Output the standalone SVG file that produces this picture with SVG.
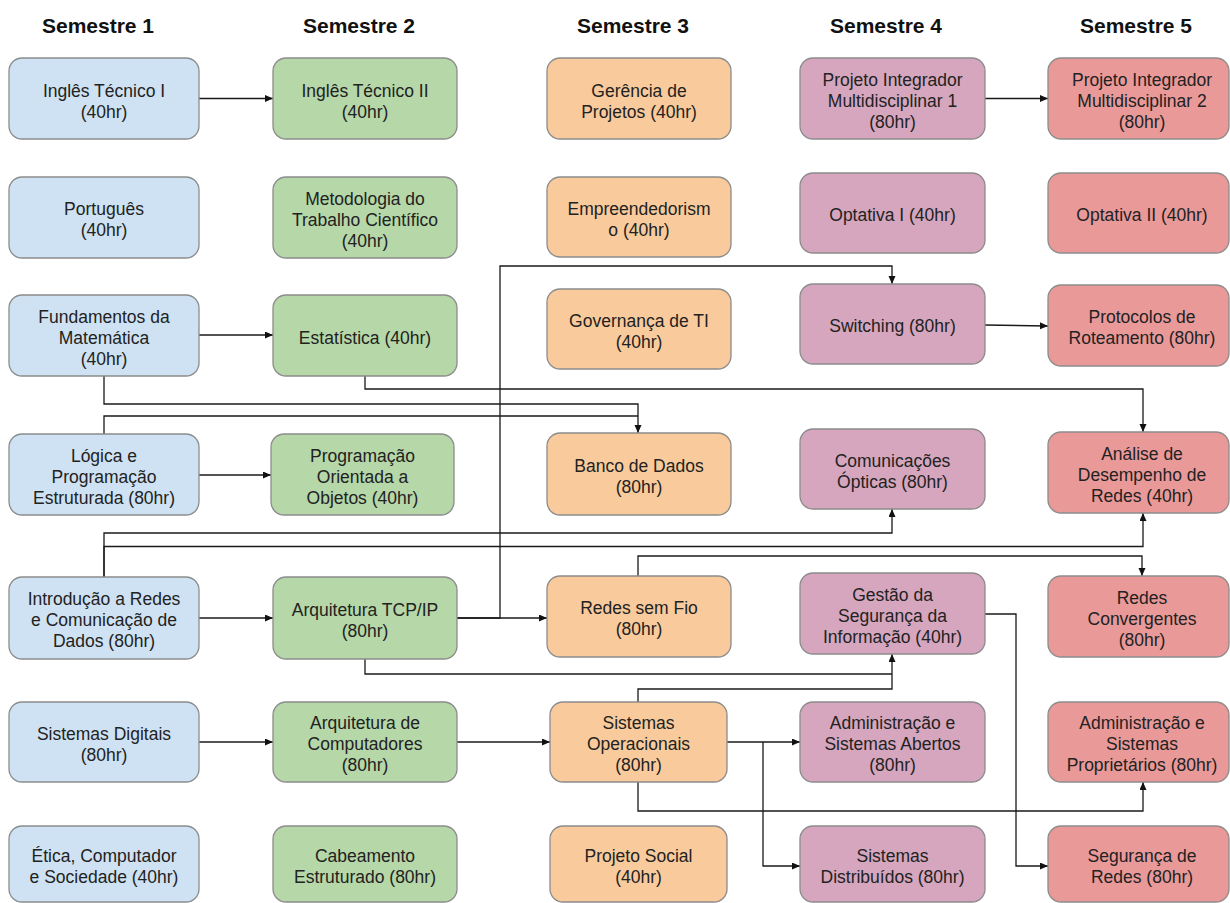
<svg xmlns="http://www.w3.org/2000/svg" width="1230" height="903" viewBox="0 0 1230 903">
<defs>
<marker id="ah" markerUnits="userSpaceOnUse" markerWidth="9" markerHeight="8" refX="8" refY="3.5" orient="auto">
<path d="M0,0 L8,3.5 L0,7 z" fill="#111"/>
</marker>
<style>
.t{font-family:"Liberation Sans",Arial,sans-serif;font-size:17.5px;fill:#222;text-anchor:middle}
.h{font-family:"Liberation Sans",Arial,sans-serif;font-size:21px;font-weight:bold;fill:#111;text-anchor:middle}
rect{stroke:#8c8c8c;stroke-width:1.3}
.s1 rect{fill:#cfe2f3}.s2 rect{fill:#b6d7a8}.s3 rect{fill:#f9cb9c}.s4 rect{fill:#d5a6bd}.s5 rect{fill:#ea9999}
.c{fill:none;stroke:#1a1a1a;stroke-width:1.3}
.a{marker-end:url(#ah)}
</style>
</defs>
<rect width="1230" height="903" fill="#fff" style="stroke:none"/>
<g id="titles">
<text class="h" x="98" y="33">Semestre 1</text>
<text class="h" x="359" y="33">Semestre 2</text>
<text class="h" x="633" y="33">Semestre 3</text>
<text class="h" x="886" y="33">Semestre 4</text>
<text class="h" x="1136" y="33">Semestre 5</text>
</g>
<g id="connectors">
<path class="c a" d="M199,98.5 H273"/>
<path class="c a" d="M985,98.5 H1048"/>
<path class="c a" d="M199,335 H273"/>
<path class="c a" d="M985,325 L1048,326"/>
<path class="c a" d="M199,475 H271"/>
<path class="c a" d="M199,618 H273"/>
<path class="c a" d="M457,618 H547"/>
<path class="c a" d="M457,618 H500 V266 H892 V284"/>
<path class="c a" d="M199,742 H273"/>
<path class="c a" d="M457,742 H550"/>
<path class="c a" d="M727,742 H800"/>
<path class="c a" d="M763,742 V866 H800"/>
<path class="c a" d="M638,782 V811 H1143 V782"/>
<path class="c a" d="M638,702 V689 H892 V654"/>
<path class="c" d="M365,659 V674 H892"/>
<path class="c a" d="M985,614 H1016 V866 H1048"/>
<path class="c a" d="M638,576 V556 H1142 V576"/>
<path class="c a" d="M104,577 V533 H892 V509"/>
<path class="c a" d="M104,577 V546.5 H1143 V513"/>
<path class="c a" d="M104,376 V404 H638 V433"/>
<path class="c" d="M104,434 V416 H638"/>
<path class="c a" d="M365,376 V389 H1143 V432"/>
</g>
<g id="n-ingles1" class="s1"><rect x="9" y="58" width="190" height="81" rx="13"/><text class="t" x="104" y="96.5">Inglês Técnico I</text><text class="t" x="104" y="117.5">(40hr)</text></g>
<g id="n-portugues" class="s1"><rect x="9" y="177" width="190" height="81" rx="13"/><text class="t" x="104" y="215">Português</text><text class="t" x="104" y="236">(40hr)</text></g>
<g id="n-fundamentos" class="s1"><rect x="9" y="295" width="190" height="81" rx="13"/><text class="t" x="104" y="322.5">Fundamentos da</text><text class="t" x="104" y="343.5">Matemática</text><text class="t" x="104" y="364.5">(40hr)</text></g>
<g id="n-logica" class="s1"><rect x="9" y="434" width="190" height="81" rx="13"/><text class="t" x="104" y="461.5">Lógica e</text><text class="t" x="104" y="482.5">Programação</text><text class="t" x="104" y="503.5">Estruturada (80hr)</text></g>
<g id="n-intro" class="s1"><rect x="9" y="577" width="190" height="82" rx="13"/><text class="t" x="104" y="605">Introdução a Redes</text><text class="t" x="104" y="626">e Comunicação de</text><text class="t" x="104" y="647">Dados (80hr)</text></g>
<g id="n-digitais" class="s1"><rect x="9" y="702" width="190" height="80" rx="13"/><text class="t" x="104" y="739.5">Sistemas Digitais</text><text class="t" x="104" y="760.5">(80hr)</text></g>
<g id="n-etica" class="s1"><rect x="9" y="826" width="190" height="76" rx="13"/><text class="t" x="104" y="861.5">Ética, Computador</text><text class="t" x="104" y="882.5">e Sociedade (40hr)</text></g>

<g id="n-ingles2" class="s2"><rect x="273" y="58" width="184" height="81" rx="13"/><text class="t" x="365" y="96.5">Inglês Técnico II</text><text class="t" x="365" y="117.5">(40hr)</text></g>
<g id="n-metodologia" class="s2"><rect x="273" y="177" width="184" height="81" rx="13"/><text class="t" x="365" y="204.5">Metodologia do</text><text class="t" x="365" y="225.5">Trabalho Científico</text><text class="t" x="365" y="246.5">(40hr)</text></g>
<g id="n-estatistica" class="s2"><rect x="273" y="295" width="184" height="81" rx="13"/><text class="t" x="365" y="343.5">Estatística (40hr)</text></g>
<g id="n-poo" class="s2"><rect x="271" y="434" width="183" height="81" rx="13"/><text class="t" x="362.5" y="461.5">Programação</text><text class="t" x="362.5" y="482.5">Orientada a</text><text class="t" x="362.5" y="503.5">Objetos (40hr)</text></g>
<g id="n-tcpip" class="s2"><rect x="273" y="577" width="184" height="82" rx="13"/><text class="t" x="365" y="615.5">Arquitetura TCP/IP</text><text class="t" x="365" y="636.5">(80hr)</text></g>
<g id="n-arqcomp" class="s2"><rect x="273" y="702" width="184" height="80" rx="13"/><text class="t" x="365" y="729">Arquitetura de</text><text class="t" x="365" y="750">Computadores</text><text class="t" x="365" y="771">(80hr)</text></g>
<g id="n-cabeamento" class="s2"><rect x="273" y="826" width="184" height="76" rx="13"/><text class="t" x="365" y="861.5">Cabeamento</text><text class="t" x="365" y="882.5">Estruturado (80hr)</text></g>

<g id="n-gerencia" class="s3"><rect x="547" y="58" width="184" height="81" rx="13"/><text class="t" x="639" y="96.5">Gerência de</text><text class="t" x="639" y="117.5">Projetos (40hr)</text></g>
<g id="n-empreend" class="s3"><rect x="547" y="177" width="184" height="80" rx="13"/><text class="t" x="639" y="215">Empreendedorism</text><text class="t" x="639" y="236">o (40hr)</text></g>
<g id="n-governanca" class="s3"><rect x="547" y="289" width="184" height="80" rx="13"/><text class="t" x="639" y="326.5">Governança de TI</text><text class="t" x="639" y="347.5">(40hr)</text></g>
<g id="n-banco" class="s3"><rect x="547" y="433" width="184" height="82" rx="13"/><text class="t" x="639" y="471.5">Banco de Dados</text><text class="t" x="639" y="492.5">(80hr)</text></g>
<g id="n-semfio" class="s3"><rect x="547" y="576" width="184" height="81" rx="13"/><text class="t" x="639" y="614">Redes sem Fio</text><text class="t" x="639" y="635">(80hr)</text></g>
<g id="n-so" class="s3"><rect x="550" y="702" width="177" height="80" rx="13"/><text class="t" x="638.5" y="729">Sistemas</text><text class="t" x="638.5" y="750">Operacionais</text><text class="t" x="638.5" y="771">(80hr)</text></g>
<g id="n-social" class="s3"><rect x="550" y="826" width="177" height="76" rx="13"/><text class="t" x="638.5" y="861.5">Projeto Social</text><text class="t" x="638.5" y="882.5">(40hr)</text></g>

<g id="n-pim1" class="s4"><rect x="800" y="58" width="185" height="81" rx="13"/><text class="t" x="892.5" y="85.5">Projeto Integrador</text><text class="t" x="892.5" y="106.5">Multidisciplinar 1</text><text class="t" x="892.5" y="127.5">(80hr)</text></g>
<g id="n-optativa1" class="s4"><rect x="800" y="173" width="185" height="80" rx="13"/><text class="t" x="892.5" y="221">Optativa I (40hr)</text></g>
<g id="n-switching" class="s4"><rect x="800" y="284" width="185" height="80" rx="13"/><text class="t" x="892.5" y="332">Switching (80hr)</text></g>
<g id="n-opticas" class="s4"><rect x="800" y="429" width="185" height="80" rx="13"/><text class="t" x="892.5" y="466.5">Comunicações</text><text class="t" x="892.5" y="487.5">Ópticas (80hr)</text></g>
<g id="n-gestao" class="s4"><rect x="800" y="573" width="185" height="81" rx="13"/><text class="t" x="892.5" y="600.5">Gestão da</text><text class="t" x="892.5" y="621.5">Segurança da</text><text class="t" x="892.5" y="642.5">Informação (40hr)</text></g>
<g id="n-admabertos" class="s4"><rect x="800" y="702" width="185" height="80" rx="13"/><text class="t" x="892.5" y="729">Administração e</text><text class="t" x="892.5" y="750">Sistemas Abertos</text><text class="t" x="892.5" y="771">(80hr)</text></g>
<g id="n-distribuidos" class="s4"><rect x="800" y="826" width="185" height="76" rx="13"/><text class="t" x="892.5" y="861.5">Sistemas</text><text class="t" x="892.5" y="882.5">Distribuídos (80hr)</text></g>

<g id="n-pim2" class="s5"><rect x="1048" y="58" width="181" height="81" rx="13"/><text class="t" x="1142" y="85.5">Projeto Integrador</text><text class="t" x="1142" y="106.5">Multidisciplinar 2</text><text class="t" x="1142" y="127.5">(80hr)</text></g>
<g id="n-optativa2" class="s5"><rect x="1048" y="173" width="181" height="80" rx="13"/><text class="t" x="1142" y="221">Optativa II (40hr)</text></g>
<g id="n-protocolos" class="s5"><rect x="1048" y="285" width="181" height="81" rx="13"/><text class="t" x="1142" y="323">Protocolos de</text><text class="t" x="1142" y="344">Roteamento (80hr)</text></g>
<g id="n-analise" class="s5"><rect x="1048" y="432" width="181" height="81" rx="13"/><text class="t" x="1142" y="459.5">Análise de</text><text class="t" x="1142" y="480.5">Desempenho de</text><text class="t" x="1142" y="501.5">Redes (40hr)</text></g>
<g id="n-convergentes" class="s5"><rect x="1048" y="576" width="181" height="81" rx="13"/><text class="t" x="1142" y="603.5">Redes</text><text class="t" x="1142" y="624.5">Convergentes</text><text class="t" x="1142" y="645.5">(80hr)</text></g>
<g id="n-admproprietarios" class="s5"><rect x="1048" y="702" width="181" height="80" rx="13"/><text class="t" x="1142" y="729">Administração e</text><text class="t" x="1142" y="750">Sistemas</text><text class="t" x="1142" y="771">Proprietários (80hr)</text></g>
<g id="n-segredes" class="s5"><rect x="1048" y="826" width="181" height="76" rx="13"/><text class="t" x="1142" y="861.5">Segurança de</text><text class="t" x="1142" y="882.5">Redes (80hr)</text></g>
</svg>
